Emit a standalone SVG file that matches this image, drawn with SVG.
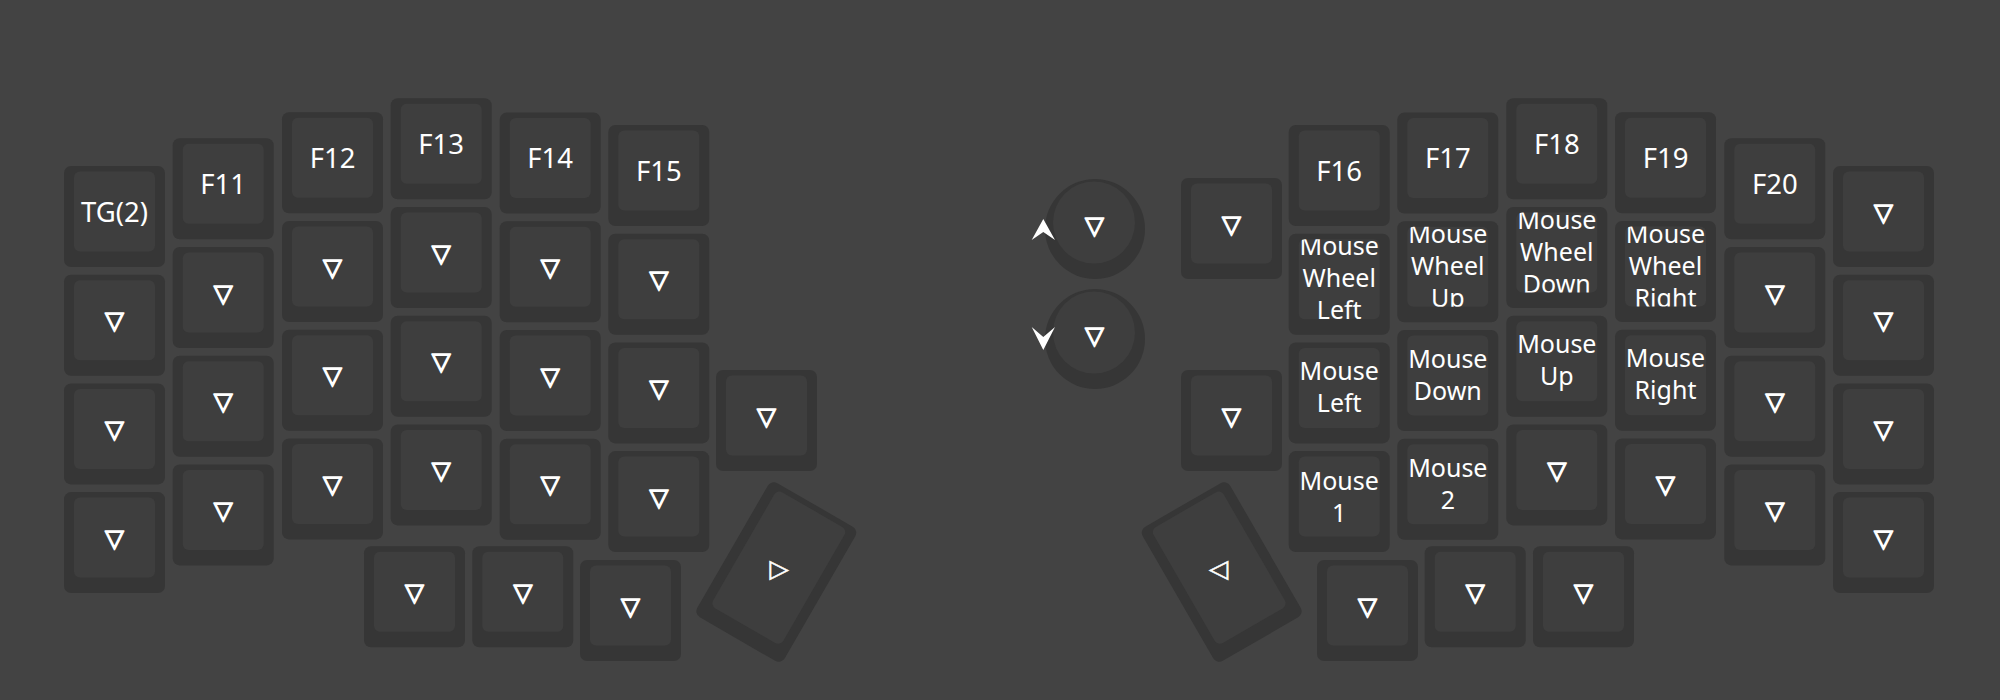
<svg xmlns="http://www.w3.org/2000/svg" xmlns:xlink="http://www.w3.org/1999/xlink" width="2000" height="700" viewBox="0 0 2000 700">
<style>
.bg{fill:#434343}
.o{fill:#363636}
.f{fill:#3e3e3e}
.t{font-family:"Noto Sans","Liberation Sans",sans-serif;font-size:27.5px;fill:#fff;text-anchor:middle}
.m{font-size:25px}
.s{font-family:"DejaVu Sans",sans-serif;font-weight:bold;font-size:24.5px;fill:#fff;stroke:#fff;stroke-width:1.4px;stroke-linejoin:round;text-anchor:middle}
.r{font-family:"DejaVu Sans",sans-serif;font-size:25px;fill:#fff;stroke:#fff;stroke-width:0.6px;text-anchor:middle}
.chev{fill:#fff}
</style>
<defs>
<g id="k"><rect class="o" width="101" height="101" rx="7"/><rect class="f" x="10" y="5.5" width="81" height="80" rx="6"/></g>
<clipPath id="cf" clipPathUnits="userSpaceOnUse"><rect x="10" y="5.5" width="81" height="80" rx="6"/></clipPath>
</defs>
<rect class="bg" width="2000" height="700"/>
<g id="connectors"/>
<!-- LEFT HALF -->
<g id="l0-0" transform="translate(64,166)"><use href="#k"/><text class="t" x="50.5" y="55.5">TG(2)</text></g>
<g id="l0-1" transform="translate(64,274.7)"><use href="#k"/><text class="s" x="50.5" y="54.5">▽</text></g>
<g id="l0-2" transform="translate(64,383.4)"><use href="#k"/><text class="s" x="50.5" y="54.5">▽</text></g>
<g id="l0-3" transform="translate(64,492.1)"><use href="#k"/><text class="s" x="50.5" y="54.5">▽</text></g>
<g id="l1-0" transform="translate(172.7,138.3)"><use href="#k"/><text class="t" x="50.5" y="55.5">F11</text></g>
<g id="l1-1" transform="translate(172.7,247)"><use href="#k"/><text class="s" x="50.5" y="54.5">▽</text></g>
<g id="l1-2" transform="translate(172.7,355.7)"><use href="#k"/><text class="s" x="50.5" y="54.5">▽</text></g>
<g id="l1-3" transform="translate(172.7,464.4)"><use href="#k"/><text class="s" x="50.5" y="54.5">▽</text></g>
<g id="l2-0" transform="translate(282,112.3)"><use href="#k"/><text class="t" x="50.5" y="55.5">F12</text></g>
<g id="l2-1" transform="translate(282,221)"><use href="#k"/><text class="s" x="50.5" y="54.5">▽</text></g>
<g id="l2-2" transform="translate(282,329.7)"><use href="#k"/><text class="s" x="50.5" y="54.5">▽</text></g>
<g id="l2-3" transform="translate(282,438.4)"><use href="#k"/><text class="s" x="50.5" y="54.5">▽</text></g>
<g id="l3-0" transform="translate(390.7,98.3)"><use href="#k"/><text class="t" x="50.5" y="55.5">F13</text></g>
<g id="l3-1" transform="translate(390.7,207)"><use href="#k"/><text class="s" x="50.5" y="54.5">▽</text></g>
<g id="l3-2" transform="translate(390.7,315.7)"><use href="#k"/><text class="s" x="50.5" y="54.5">▽</text></g>
<g id="l3-3" transform="translate(390.7,424.4)"><use href="#k"/><text class="s" x="50.5" y="54.5">▽</text></g>
<g id="l4-0" transform="translate(499.7,112.6)"><use href="#k"/><text class="t" x="50.5" y="55.5">F14</text></g>
<g id="l4-1" transform="translate(499.7,221.3)"><use href="#k"/><text class="s" x="50.5" y="54.5">▽</text></g>
<g id="l4-2" transform="translate(499.7,330)"><use href="#k"/><text class="s" x="50.5" y="54.5">▽</text></g>
<g id="l4-3" transform="translate(499.7,438.7)"><use href="#k"/><text class="s" x="50.5" y="54.5">▽</text></g>
<g id="l5-0" transform="translate(608.3,125)"><use href="#k"/><text class="t" x="50.5" y="55.5">F15</text></g>
<g id="l5-1" transform="translate(608.3,233.7)"><use href="#k"/><text class="s" x="50.5" y="54.5">▽</text></g>
<g id="l5-2" transform="translate(608.3,342.4)"><use href="#k"/><text class="s" x="50.5" y="54.5">▽</text></g>
<g id="l5-3" transform="translate(608.3,451.1)"><use href="#k"/><text class="s" x="50.5" y="54.5">▽</text></g>
<g id="l6-0" transform="translate(716,370)"><use href="#k"/><text class="s" x="50.5" y="54.5">▽</text></g>
<g id="lt-0" transform="translate(364,546.3)"><use href="#k"/><text class="s" x="50.5" y="54.5">▽</text></g>
<g id="lt-1" transform="translate(472.3,546.3)"><use href="#k"/><text class="s" x="50.5" y="54.5">▽</text></g>
<g id="lt-2" transform="translate(580,560)"><use href="#k"/><text class="s" x="50.5" y="54.5">▽</text></g>
<g id="lt-3"><g transform="translate(776.3,572) rotate(30)"><rect class="o" x="-50.5" y="-77.5" width="101" height="155" rx="7"/><rect class="f" x="-40.5" y="-72" width="81" height="134" rx="6"/></g><text class="r" x="779" y="576.5">▷</text></g>
<!-- ENCODERS -->
<g id="enc-0"><circle class="o" cx="1095" cy="229" r="50"/><circle class="f" cx="1094" cy="222.5" r="41"/><text class="s" x="1094.5" y="234">▽</text><polygon class="chev" points="1043.3,219 1055,240 1043.3,232 1031.7,240"/></g>
<g id="enc-1"><circle class="o" cx="1095" cy="339" r="50"/><circle class="f" cx="1094" cy="332.5" r="41"/><text class="s" x="1094.5" y="344">▽</text><polygon class="chev" points="1043.3,350 1055,327 1043.3,337 1031.7,327"/></g>
<!-- RIGHT HALF -->
<g id="r6-0" transform="translate(1181,178)"><use href="#k"/><text class="s" x="50.5" y="54.5">▽</text></g>
<g id="r6-1" transform="translate(1181,370)"><use href="#k"/><text class="s" x="50.5" y="54.5">▽</text></g>
<g id="r5-0" transform="translate(1288.7,125)"><use href="#k"/><text class="t" x="50.5" y="55.5">F16</text></g>
<g id="r5-1" transform="translate(1288.7,233.7)"><use href="#k"/><text class="t m" clip-path="url(#cf)"><tspan x="50.5" y="21.5">Mouse</tspan><tspan x="50.5" y="53.5">Wheel</tspan><tspan x="50.5" y="85.5">Left</tspan></text></g>
<g id="r5-2" transform="translate(1288.7,342.4)"><use href="#k"/><text class="t m"><tspan x="50.5" y="37.5">Mouse</tspan><tspan x="50.5" y="69.5">Left</tspan></text></g>
<g id="r5-3" transform="translate(1288.7,451.1)"><use href="#k"/><text class="t m"><tspan x="50.5" y="38.5">Mouse</tspan><tspan x="50.5" y="70.5">1</tspan></text></g>
<g id="r4-0" transform="translate(1397.3,112.6)"><use href="#k"/><text class="t" x="50.5" y="55.5">F17</text></g>
<g id="r4-1" transform="translate(1397.3,221.3)"><use href="#k"/><text class="t m" clip-path="url(#cf)"><tspan x="50.5" y="21.5">Mouse</tspan><tspan x="50.5" y="53.5">Wheel</tspan><tspan x="50.5" y="85.5">Up</tspan></text></g>
<g id="r4-2" transform="translate(1397.3,330)"><use href="#k"/><text class="t m"><tspan x="50.5" y="37.5">Mouse</tspan><tspan x="50.5" y="69.5">Down</tspan></text></g>
<g id="r4-3" transform="translate(1397.3,438.7)"><use href="#k"/><text class="t m"><tspan x="50.5" y="38.5">Mouse</tspan><tspan x="50.5" y="70.5">2</tspan></text></g>
<g id="r3-0" transform="translate(1506.3,98.3)"><use href="#k"/><text class="t" x="50.5" y="55.5">F18</text></g>
<g id="r3-1" transform="translate(1506.3,207)"><use href="#k"/><text class="t m" clip-path="url(#cf)"><tspan x="50.5" y="21.5">Mouse</tspan><tspan x="50.5" y="53.5">Wheel</tspan><tspan x="50.5" y="85.5">Down</tspan></text></g>
<g id="r3-2" transform="translate(1506.3,315.7)"><use href="#k"/><text class="t m"><tspan x="50.5" y="37.5">Mouse</tspan><tspan x="50.5" y="69.5">Up</tspan></text></g>
<g id="r3-3" transform="translate(1506.3,424.4)"><use href="#k"/><text class="s" x="50.5" y="54.5">▽</text></g>
<g id="r2-0" transform="translate(1615,112.3)"><use href="#k"/><text class="t" x="50.5" y="55.5">F19</text></g>
<g id="r2-1" transform="translate(1615,221)"><use href="#k"/><text class="t m" clip-path="url(#cf)"><tspan x="50.5" y="21.5">Mouse</tspan><tspan x="50.5" y="53.5">Wheel</tspan><tspan x="50.5" y="85.5">Right</tspan></text></g>
<g id="r2-2" transform="translate(1615,329.7)"><use href="#k"/><text class="t m"><tspan x="50.5" y="37.5">Mouse</tspan><tspan x="50.5" y="69.5">Right</tspan></text></g>
<g id="r2-3" transform="translate(1615,438.4)"><use href="#k"/><text class="s" x="50.5" y="54.5">▽</text></g>
<g id="r1-0" transform="translate(1724.3,138.3)"><use href="#k"/><text class="t" x="50.5" y="55.5">F20</text></g>
<g id="r1-1" transform="translate(1724.3,247)"><use href="#k"/><text class="s" x="50.5" y="54.5">▽</text></g>
<g id="r1-2" transform="translate(1724.3,355.7)"><use href="#k"/><text class="s" x="50.5" y="54.5">▽</text></g>
<g id="r1-3" transform="translate(1724.3,464.4)"><use href="#k"/><text class="s" x="50.5" y="54.5">▽</text></g>
<g id="r0-0" transform="translate(1833,166)"><use href="#k"/><text class="s" x="50.5" y="54.5">▽</text></g>
<g id="r0-1" transform="translate(1833,274.7)"><use href="#k"/><text class="s" x="50.5" y="54.5">▽</text></g>
<g id="r0-2" transform="translate(1833,383.4)"><use href="#k"/><text class="s" x="50.5" y="54.5">▽</text></g>
<g id="r0-3" transform="translate(1833,492.1)"><use href="#k"/><text class="s" x="50.5" y="54.5">▽</text></g>
<g id="rt-0" transform="translate(1533,546.3)"><use href="#k"/><text class="s" x="50.5" y="54.5">▽</text></g>
<g id="rt-1" transform="translate(1424.7,546.3)"><use href="#k"/><text class="s" x="50.5" y="54.5">▽</text></g>
<g id="rt-2" transform="translate(1317,560)"><use href="#k"/><text class="s" x="50.5" y="54.5">▽</text></g>
<g id="rt-3"><g transform="translate(1221.7,572) rotate(-30)"><rect class="o" x="-50.5" y="-77.5" width="101" height="155" rx="7"/><rect class="f" x="-40.5" y="-72" width="81" height="134" rx="6"/></g><text class="r" x="1218.5" y="576.5">◁</text></g>
</svg>
